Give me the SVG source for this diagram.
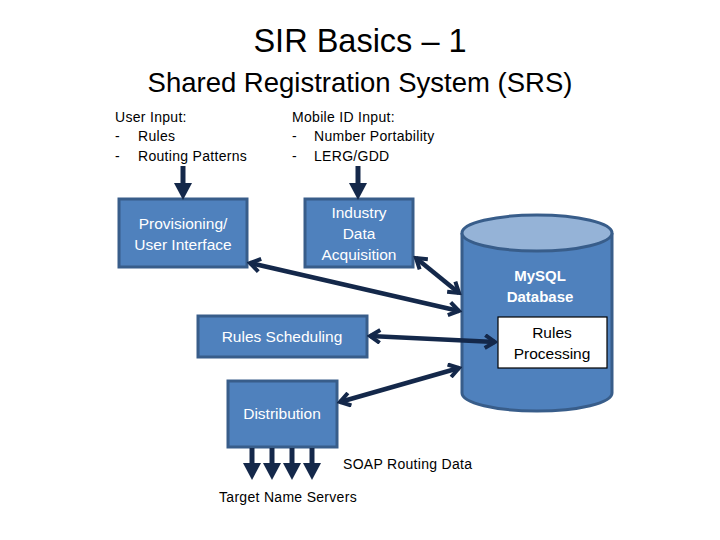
<svg xmlns="http://www.w3.org/2000/svg" width="720" height="540" viewBox="0 0 720 540">
<defs>
<style>
text{font-family:"Liberation Sans",Arial,sans-serif;}
.t{fill:#000;}
.box{fill:#4F81BD;stroke:#385D8A;stroke-width:3;}
.bt{fill:#fff;font-size:15.5px;text-anchor:middle;}
.sm{font-size:14px;fill:#000;letter-spacing:0.3px;}
.con{stroke:#14284A;stroke-width:4.5;fill:none;}
.dn{stroke:#14284A;stroke-width:5;fill:none;}
.hd{fill:#14284A;}
</style>
<marker id="oa" viewBox="0 0 16 16" refX="13" refY="8" markerWidth="16" markerHeight="16" markerUnits="userSpaceOnUse" orient="auto-start-reverse">
<path d="M3,1.5 L13,8 L3,14.5" fill="none" stroke="#14284A" stroke-width="4" stroke-linejoin="miter"/>
</marker>
</defs>
<rect width="720" height="540" fill="#fff"/>
<g id="title">
<text x="360" y="52" font-size="32.5" text-anchor="middle" class="t">SIR Basics – 1</text>
<text x="360" y="92" font-size="27.5" text-anchor="middle" class="t">Shared Registration System (SRS)</text>
</g>
<g id="user-input">
<text x="115" y="122" class="sm">User Input:</text>
<text x="115" y="141" class="sm">-</text>
<text x="138" y="141" class="sm">Rules</text>
<text x="115" y="161" class="sm">-</text>
<text x="138" y="161" class="sm">Routing Patterns</text>
</g>
<g id="mobile-input">
<text x="292" y="122" class="sm">Mobile ID Input:</text>
<text x="292" y="141" class="sm">-</text>
<text x="314" y="141" class="sm">Number Portability</text>
<text x="292" y="161" class="sm">-</text>
<text x="314" y="161" class="sm">LERG/GDD</text>
</g>
<g id="provisioning">
<rect class="box" x="119" y="199" width="128" height="68"/>
<text class="bt" x="183" y="229">Provisioning/</text>
<text class="bt" x="183" y="250">User Interface</text>
</g>
<g id="industry">
<rect class="box" x="305" y="199" width="108" height="68"/>
<text class="bt" x="359" y="218">Industry</text>
<text class="bt" x="359" y="239">Data</text>
<text class="bt" x="359" y="260">Acquisition</text>
</g>
<g id="database">
<path d="M462,233 L462,393 A75,18 0 0 0 612,393 L612,233" fill="#4F81BD" stroke="#385D8A" stroke-width="3"/>
<ellipse cx="537" cy="233" rx="75" ry="18" fill="#95B3D7" stroke="#385D8A" stroke-width="3"/>
<text x="540" y="281" fill="#fff" font-size="15" font-weight="bold" text-anchor="middle">MySQL</text>
<text x="540" y="302" fill="#fff" font-size="15" font-weight="bold" text-anchor="middle">Database</text>
</g>
<g id="rules-processing">
<rect x="498" y="317" width="109" height="51" fill="#fff" stroke="#000" stroke-width="1.2"/>
<text x="552" y="338" font-size="15.5" text-anchor="middle" class="t">Rules</text>
<text x="552" y="359" font-size="15.5" text-anchor="middle" class="t">Processing</text>
</g>
<g id="rules-scheduling">
<rect class="box" x="198" y="316" width="169" height="41"/>
<text class="bt" x="282" y="342">Rules Scheduling</text>
</g>
<g id="distribution">
<rect class="box" x="228" y="381" width="109" height="66"/>
<text class="bt" x="282" y="419">Distribution</text>
</g>
<g id="labels">
<text x="343" y="469" class="sm">SOAP Routing Data</text>
<text x="219" y="502" class="sm">Target Name Servers</text>
</g>
<g id="connectors">
<line class="con" x1="250" y1="263" x2="459" y2="311" marker-start="url(#oa)" marker-end="url(#oa)"/>
<line class="con" x1="416" y1="258" x2="459" y2="293" marker-start="url(#oa)" marker-end="url(#oa)"/>
<line class="con" x1="370" y1="336" x2="495" y2="342" marker-start="url(#oa)" marker-end="url(#oa)"/>
<line class="con" x1="340" y1="402" x2="459" y2="368" marker-start="url(#oa)" marker-end="url(#oa)"/>
<line class="dn" x1="183" y1="166" x2="183" y2="186"/>
<polygon class="hd" points="174,183 192,183 183,200"/>
<line class="dn" x1="358" y1="166" x2="358" y2="186"/>
<polygon class="hd" points="349,183 367,183 358,200"/>
<line class="dn" x1="252" y1="448" x2="252" y2="466"/>
<polygon class="hd" points="243,463 261,463 252,480"/>
<line class="dn" x1="272" y1="448" x2="272" y2="466"/>
<polygon class="hd" points="263,463 281,463 272,480"/>
<line class="dn" x1="292" y1="448" x2="292" y2="466"/>
<polygon class="hd" points="283,463 301,463 292,480"/>
<line class="dn" x1="312" y1="448" x2="312" y2="466"/>
<polygon class="hd" points="303,463 321,463 312,480"/>
</g>
</svg>
